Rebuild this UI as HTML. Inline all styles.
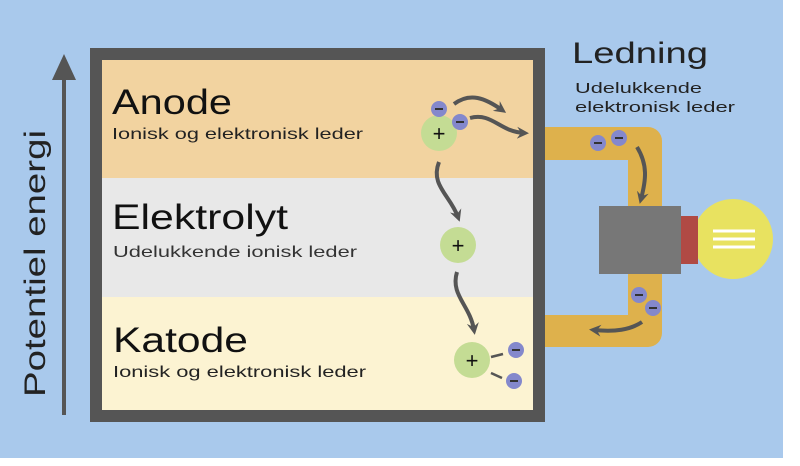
<!DOCTYPE html><html><head><style>
body{margin:0;width:800px;height:461px;overflow:hidden;background:#fff;font-family:"Liberation Sans",sans-serif}
</style></head><body>
<svg width="800" height="461" xmlns="http://www.w3.org/2000/svg" font-family="Liberation Sans, sans-serif">
<defs><marker id="a" markerWidth="12" markerHeight="12" refX="7" refY="6" orient="auto" markerUnits="userSpaceOnUse"><path d="M0,0 L12,6 L0,12 L4,6z" fill="#555"/></marker></defs>
<rect x="0" y="0" width="783" height="458" fill="#a9c9ec"/>
<rect x="90" y="48" width="455" height="374" fill="#555"/>
<rect x="102" y="60" width="431" height="118" fill="#f2d3a0"/>
<rect x="102" y="178" width="431" height="119" fill="#e8e8e8"/>
<rect x="102" y="297" width="431" height="113" fill="#fcf3d2"/>
<line x1="64" y1="415" x2="64" y2="70" stroke="#555" stroke-width="4"/>
<path d="M52,80 L64,54 L76,80 Z" fill="#555"/>
<text transform="translate(45,397) rotate(-90)" font-size="30" fill="#222" textLength="267" lengthAdjust="spacingAndGlyphs">Potentiel energi</text>
<text x="112" y="114" font-size="35" fill="#111" textLength="120" lengthAdjust="spacingAndGlyphs">Anode</text>
<text x="112" y="139" font-size="16" fill="#222" textLength="251" lengthAdjust="spacingAndGlyphs">Ionisk og elektronisk leder</text>
<text x="112" y="229" font-size="35" fill="#111" textLength="176" lengthAdjust="spacingAndGlyphs">Elektrolyt</text>
<text x="113" y="257" font-size="16" fill="#333" textLength="244" lengthAdjust="spacingAndGlyphs">Udelukkende ionisk leder</text>
<text x="113" y="352" font-size="35" fill="#111" textLength="135" lengthAdjust="spacingAndGlyphs">Katode</text>
<text x="113" y="377" font-size="16" fill="#222" textLength="253" lengthAdjust="spacingAndGlyphs">Ionisk og elektronisk leder</text>
<text x="572" y="63" font-size="30" fill="#222" textLength="136" lengthAdjust="spacingAndGlyphs">Ledning</text>
<text x="575" y="93" font-size="15" fill="#222" textLength="127" lengthAdjust="spacingAndGlyphs">Udelukkende</text>
<text x="575" y="112" font-size="15" fill="#222" textLength="160" lengthAdjust="spacingAndGlyphs">elektronisk leder</text>
<path d="M545,127 H648 a14,14 0 0 1 14,14 V333 a14,14 0 0 1 -14,14 H545 V315 H628 V160 H545 Z" fill="#deb14c"/>
<rect x="599" y="206" width="82" height="68" fill="#777"/>
<circle cx="733" cy="239" r="40" fill="#e8e260"/>
<rect x="681" y="216" width="17" height="48" fill="#b04a44"/>
<g stroke="#fff" stroke-width="3"><line x1="713" y1="231" x2="755" y2="231"/><line x1="713" y1="239" x2="755" y2="239"/><line x1="713" y1="247" x2="755" y2="247"/></g>
<g fill="none" stroke="#555" stroke-width="4">
<path d="M454,104 C470,92 485,98 502,110" marker-end="url(#a)"/>
<path d="M470,118 C492,112 500,132 524,133" marker-end="url(#a)"/>
<path d="M439,162 C430,185 450,195 458,217" marker-end="url(#a)"/>
<path d="M457,272 C450,295 470,305 474,330" marker-end="url(#a)"/>
<path d="M637,147 C648,165 646,180 641,199" marker-end="url(#a)"/>
<path d="M642,322 C630,330 615,332 594,330" marker-end="url(#a)"/>
<path d="M503,354 L491,357" stroke-width="2.5"/><path d="M502,378 L491,373" stroke-width="2.5"/>
</g>
<g fill="#c4dc94"><circle cx="439" cy="133" r="18"/><circle cx="458" cy="245" r="18"/><circle cx="472" cy="360" r="18"/></g>
<g font-size="22" text-anchor="middle" fill="#111"><text x="439" y="141">+</text><text x="458" y="253">+</text><text x="472" y="368">+</text></g>
<g fill="#8488cc">
<circle cx="439" cy="109" r="8"/><circle cx="460" cy="122" r="8"/><circle cx="598" cy="143" r="8"/><circle cx="619" cy="138" r="8"/><circle cx="639" cy="295" r="8"/><circle cx="653" cy="308" r="8"/><circle cx="516" cy="350" r="8"/><circle cx="514" cy="381" r="8"/></g>
<g stroke="#333" stroke-width="2"><line x1="435" y1="109" x2="443" y2="109"/><line x1="456" y1="122" x2="464" y2="122"/><line x1="594" y1="143" x2="602" y2="143"/><line x1="615" y1="138" x2="623" y2="138"/><line x1="635" y1="295" x2="643" y2="295"/><line x1="649" y1="308" x2="657" y2="308"/><line x1="512" y1="350" x2="520" y2="350"/><line x1="510" y1="381" x2="518" y2="381"/></g>
</svg>
</body></html>
